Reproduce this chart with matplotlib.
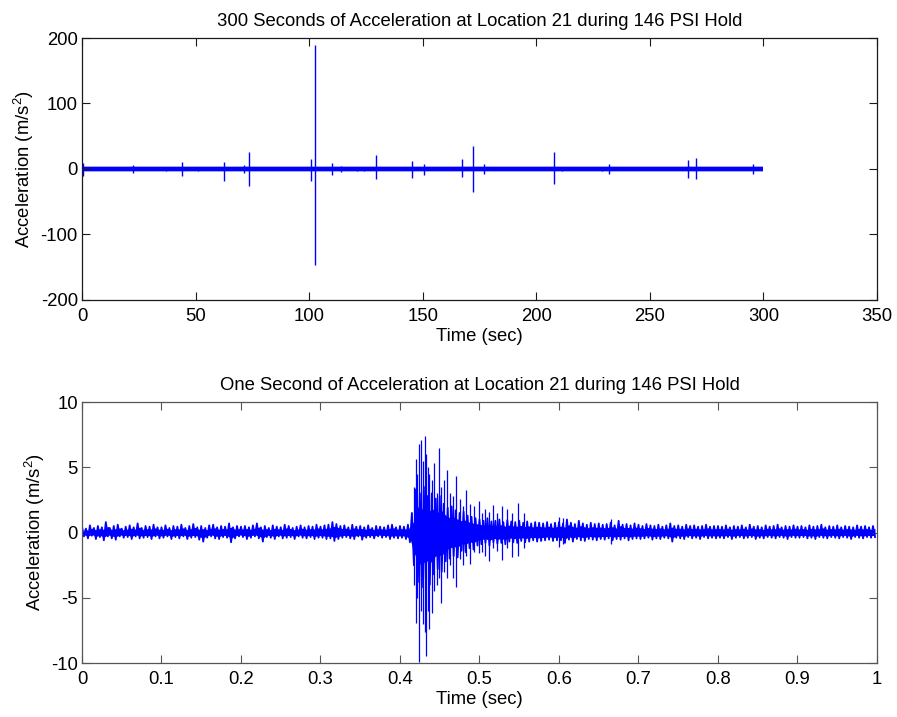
import numpy as np
import matplotlib
matplotlib.use("Agg")
import matplotlib.pyplot as plt

plt.rcParams['font.family'] = ['Liberation Sans', 'DejaVu Sans']
plt.rcParams['mathtext.default'] = 'regular'
plt.rcParams['axes.unicode_minus'] = False
plt.rcParams['font.size'] = 13.3

# ---- top panel: 300 s record, background band and the bursts
band_t = [0, 300]
band_hi = [2.5, 2.5]
band_lo = [-2.5, -2.5]

burst_t = [0.6, 22.6, 37, 44.2, 51.2, 62.5, 71.5, 73.7, 100.8, 102.7,
           110.2, 114.2, 121, 124.2, 129.4, 145.3, 150.4, 167.5, 172.3, 177.1,
           197, 208, 211.2, 228.8, 231.9, 236.9, 267, 270.4, 295.3]
burst_hi = [8.7, 6, 2.5, 11, 3, 10, 6, 25.5, 16, 190,
            8.5, 5, 3, 3, 21, 11.5, 7, 16, 35, 7,
            2, 26.4, 3, 3, 8, 2, 14, 16.5, 7]
burst_lo = [-10, -5.5, -2.5, -11, -3, -19, -6, -26, -19, -146,
            -8.5, -5, -3, -3, -16, -13, -8.5, -12, -34.5, -7,
            -2, -23.4, -3, -3, -8, -2, -13.5, -16, -7]

# ---- bottom panel: one second, sampled peaks (every 5 ms, max then min)
dt = 0.005
sig_hi = [
    0.45, 0.3, 0.55, 0.35, 0.5, 0.4, 0.8, 0.35, 0.5, 0.6, 0.3, 0.45, 0.55, 0.4, 0.7, 0.35, 0.5, 0.45, 0.6, 0.4,
    0.4, 0.55, 0.35, 0.5, 0.45, 0.6, 0.35, 0.5, 0.65, 0.4, 0.5, 0.35, 0.55, 0.6, 0.4, 0.5, 0.45, 0.7, 0.4, 0.5,
    0.45, 0.5, 0.4, 0.55, 0.7, 0.4, 0.5, 0.35, 0.55, 0.45, 0.4, 0.6, 0.5, 0.35, 0.45, 0.55, 0.4, 0.5, 0.45, 0.6,
    0.45, 0.55, 0.6, 0.8, 0.65, 0.5, 0.55, 0.4, 0.6, 0.45, 0.5, 0.4, 0.55, 0.35, 0.5, 0.45, 0.4, 0.55, 0.6, 0.4,
    0.5, 0.45, 0.6, 1.5, 3.3, 3.0, 3.5, 2.8, 3.0, 2.6, 2.8, 2.2, 1.9, 2.0, 1.7, 1.5, 1.6, 1.3, 1.2, 1.1,
    1.0, 0.9, 1.1, 0.85, 0.9, 1.0, 0.8, 0.95, 0.85, 0.8, 0.9, 0.75, 0.85, 0.7, 0.8, 0.75, 0.7, 0.8, 0.65, 0.75,
    0.8, 0.7, 1.0, 0.75, 0.65, 0.9, 0.7, 0.6, 0.75, 0.65, 0.7, 0.6, 0.65, 0.75, 0.55, 0.9, 0.6, 0.65, 0.55, 0.7,
    0.6, 0.5, 0.65, 0.55, 0.5, 0.6, 0.45, 0.55, 0.7, 0.5, 0.55, 0.45, 0.6, 0.5, 0.55, 0.45, 0.5, 0.6, 0.45, 0.5,
    0.5, 0.45, 0.55, 0.4, 0.5, 0.45, 0.55, 0.4, 0.6, 0.45, 0.5, 0.4, 0.55, 0.45, 0.5, 0.6, 0.4, 0.5, 0.45, 0.55,
    0.45, 0.5, 0.4, 0.55, 0.45, 0.5, 0.6, 0.4, 0.5, 0.45, 0.55, 0.4, 0.5, 0.45, 0.4, 0.55, 0.45, 0.5, 0.4, 0.5]
sig_lo = [
    -0.3, -0.45, -0.25, -0.5, -0.35, -0.6, -0.3, -0.45, -0.55, -0.3, -0.4, -0.35, -0.5, -0.3, -0.45, -0.4, -0.35, -0.5, -0.3, -0.45,
    -0.4, -0.3, -0.5, -0.35, -0.45, -0.3, -0.5, -0.4, -0.35, -0.55, -0.7, -0.4, -0.3, -0.45, -0.5, -0.35, -0.4, -0.75, -0.45, -0.3,
    -0.35, -0.5, -0.4, -0.3, -0.45, -0.7, -0.35, -0.4, -0.5, -0.3, -0.45, -0.4, -0.35, -0.5, -0.3, -0.4, -0.45, -0.35, -0.5, -0.4,
    -0.4, -0.5, -0.45, -0.65, -0.5, -0.4, -0.35, -0.45, -0.5, -0.3, -0.55, -0.4, -0.35, -0.45, -0.3, -0.4, -0.35, -0.5, -0.4, -0.45,
    -0.4, -0.5, -0.75, -2.5, -3.8, -4.2, -3.5, -4.0, -3.2, -2.8, -3.0, -2.2, -2.0, -1.8, -1.9, -1.4, -1.5, -1.2, -1.3, -1.0,
    -0.9, -0.8, -1.0, -0.75, -0.85, -0.8, -0.9, -0.7, -0.75, -0.8, -0.65, -0.75, -0.7, -0.6, -0.7, -0.65, -0.6, -0.55, -0.65, -0.6,
    -0.6, -0.8, -0.55, -0.7, -0.5, -0.6, -0.65, -0.5, -0.55, -0.6, -0.5, -0.55, -0.45, -0.6, -0.5, -0.55, -0.45, -0.6, -0.5, -0.45,
    -0.5, -0.45, -0.4, -0.55, -0.45, -0.5, -0.4, -0.45, -0.7, -0.4, -0.45, -0.5, -0.35, -0.45, -0.4, -0.5, -0.35, -0.45, -0.4, -0.45,
    -0.4, -0.45, -0.35, -0.5, -0.4, -0.35, -0.45, -0.4, -0.35, -0.5, -0.4, -0.45, -0.35, -0.4, -0.45, -0.35, -0.4, -0.5, -0.35, -0.4,
    -0.4, -0.35, -0.45, -0.4, -0.5, -0.35, -0.4, -0.45, -0.35, -0.4, -0.45, -0.35, -0.4, -0.5, -0.35, -0.4, -0.45, -0.35, -0.4, -0.35]

# big individual swings in the event around 0.42 s
spike_t = [0.417, 0.420, 0.422, 0.424, 0.427, 0.429, 0.431, 0.433, 0.435, 0.437,
           0.440, 0.443, 0.446, 0.449, 0.452, 0.455, 0.459, 0.463, 0.467, 0.471,
           0.475, 0.479, 0.483, 0.488, 0.493, 0.499, 0.503, 0.507, 0.512, 0.517,
           0.522, 0.528, 0.535, 0.541, 0.549, 0.556, 0.6, 0.605, 0.665]
spike_hi = [3.5, 5.6, 4.5, 6.8, 7.1, 5.5, 7.4, 6.0, 5.0, 4.5,
            4.0, 5.35, 3.0, 6.45, 3.5, 4.0, 4.8, 3.0, 2.8, 4.3,
            2.6, 2.0, 3.25, 2.2, 2.0, 2.4, 1.5, 1.8, 1.6, 2.1,
            1.5, 2.0, 1.8, 1.5, 2.3, 1.5, 1.2, 1.1, 1.0]
spike_lo = [-4.0, -6.9, -5.0, -9.9, -6.0, -7.0, -7.6, -9.5, -6.0, -7.4,
            -6.2, -4.5, -4.0, -3.5, -5.4, -3.0, -3.5, -2.5, -3.5, -4.15,
            -2.0, -2.5, -1.8, -2.4, -1.5, -1.6, -1.5, -1.8, -2.2, -1.2,
            -1.4, -2.1, -1.2, -1.9, -1.8, -1.2, -1.1, -0.9, -0.9]

blue = '#0000ff'

fig = plt.figure(figsize=(8.97, 7.17), dpi=100)
ax1 = fig.add_axes([0.0914, 0.5816, 0.8863, 0.3654])
ax2 = fig.add_axes([0.0914, 0.0753, 0.8863, 0.364])

# top
ax1.fill_between(band_t, [v * 1.6 for v in band_lo], [v * 1.6 for v in band_hi],
                 color=blue, alpha=0.35, lw=0)
ax1.fill_between(band_t, band_lo, band_hi, color=blue, lw=0)
ax1.vlines(burst_t, burst_lo, burst_hi, color=blue, lw=1.0)
ax1.set_xlim(0, 350)
ax1.set_ylim(-200, 200)
ax1.set_xticks(np.arange(0, 351, 50))
ax1.set_yticks([-200, -100, 0, 100, 200])
ax1.set_title('300 Seconds of Acceleration at Location 21 during 146 PSI Hold',
              fontsize=13.3, pad=9)
ax1.set_xlabel('Time (sec)', labelpad=2)
ax1.set_ylabel('Acceleration (m/s$^2$)', labelpad=3)

# bottom: solid core plus zigzag between the max and min of each 5 ms slot
n = len(sig_hi)
t_hi = np.arange(n) * dt
t_lo = t_hi + dt / 2
ax2.fill_between(t_lo, [0.6 * v for v in sig_lo], [0.6 * v for v in sig_hi],
                 color=blue, lw=0)
zz_t = np.column_stack([t_hi, t_lo]).ravel()
zz_v = np.column_stack([sig_hi, sig_lo]).ravel()
ax2.plot(zz_t, zz_v, color=blue, lw=1.3)
ax2.vlines(spike_t, spike_lo, spike_hi, color=blue, lw=0.9)
ax2.set_xlim(0, 1)
ax2.set_ylim(-10, 10)
ax2.set_xticks(np.round(np.arange(0, 1.01, 0.1), 1))
ax2.set_xticklabels(['0', '0.1', '0.2', '0.3', '0.4', '0.5', '0.6', '0.7', '0.8', '0.9', '1'])
ax2.set_yticks([-10, -5, 0, 5, 10])
ax2.set_title('One Second of Acceleration at Location 21 during 146 PSI Hold',
              fontsize=13.3, pad=9)
ax2.set_xlabel('Time (sec)', labelpad=2)
ax2.set_ylabel('Acceleration (m/s$^2$)', labelpad=3)

for ax, edge in ((ax1, '#1a1a1a'), (ax2, '#555555')):
    ax.tick_params(direction='in', top=True, right=True, length=5.5, width=0.8,
                   labelsize=13.3, color=edge)
    ax.tick_params(axis='x', pad=6)
    ax.tick_params(axis='y', pad=3)
    for s in ax.spines.values():
        s.set_linewidth(0.9)
        s.set_edgecolor(edge)

fig.savefig('out.png', dpi=100)
